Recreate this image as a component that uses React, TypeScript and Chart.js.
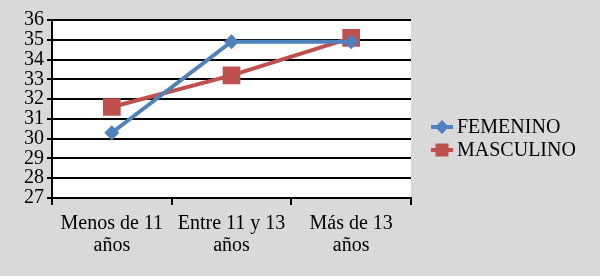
import React, { useEffect, useRef } from "react";
import { Chart, registerables } from "chart.js";

Chart.register(...registerables);

const categories: string[][] = [["Menos de 11", "años"], ["Entre 11 y 13", "años"], ["Más de 13", "años"]];
const femenino: number[] = [30.3, 34.9, 34.9];
const masculino: number[] = [31.6, 33.2, 35.1];
const seriesNames: string[] = ["FEMENINO", "MASCULINO"];
const yMin = 27;
const yMax = 36;

const BLUE = "#4f81bd";
const RED = "#c0504d";
const BG = "#d9d9d9";
const FONT = '"Liberation Serif", serif';

const bgPlugin = {
  id: "bgPlugin",
  beforeDraw(chart: any) {
    const { ctx, chartArea } = chart;
    ctx.save();
    ctx.fillStyle = BG;
    ctx.fillRect(0, 0, chart.width, chart.height);
    ctx.fillStyle = "#ffffff";
    ctx.fillRect(chartArea.left, chartArea.top, chartArea.right - chartArea.left, chartArea.bottom - chartArea.top);
    ctx.restore();
  },
};

const legendPlugin = {
  id: "customLegend",
  afterDraw(chart: any) {
    const { ctx } = chart;
    const x0 = 431;
    const x1 = 453;
    const ys = [127, 150];
    ctx.save();
    chart.data.datasets.forEach((ds: any, i: number) => {
      const y = ys[i];
      ctx.strokeStyle = ds.borderColor;
      ctx.lineWidth = 4;
      ctx.beginPath();
      ctx.moveTo(x0, y);
      ctx.lineTo(x1, y);
      ctx.stroke();
      ctx.fillStyle = ds.borderColor;
      const cx = (x0 + x1) / 2;
      ctx.beginPath();
      if (ds.pointStyle === "rectRot") {
        const r = 7;
        ctx.moveTo(cx - r, y);
        ctx.lineTo(cx, y - r);
        ctx.lineTo(cx + r, y);
        ctx.lineTo(cx, y + r);
        ctx.closePath();
      } else {
        const h = 6.5;
        ctx.rect(cx - h, y - h, 2 * h, 2 * h);
      }
      ctx.fill();
      ctx.fillStyle = "#000";
      ctx.font = `20px ${FONT}`;
      ctx.textBaseline = "middle";
      ctx.textAlign = "left";
      ctx.fillText(ds.label, 457, y + 1);
    });
    ctx.restore();
  },
};

export default function App() {
  const ref = useRef<HTMLCanvasElement>(null);
  useEffect(() => {
    document.body.style.margin = "0";
    let chart: any = null;
    let cancelled = false;
    const build = () => {
      if (cancelled || !ref.current) return;
      chart = new Chart(ref.current, {
        type: "line",
        data: {
          labels: categories,
          datasets: [
            {
              label: seriesNames[0],
              data: femenino,
              borderColor: BLUE,
              backgroundColor: BLUE,
              borderWidth: 4,
              pointStyle: "rectRot",
              pointRadius: 7.5,
              pointBorderWidth: 0,
              pointBackgroundColor: BLUE,
              tension: 0,
            },
            {
              label: seriesNames[1],
              data: masculino,
              borderColor: RED,
              backgroundColor: RED,
              borderWidth: 4,
              pointStyle: "rect",
              pointRadius: 12.5,
              pointBorderWidth: 0,
              pointBackgroundColor: RED,
              tension: 0,
            },
          ],
        },
        options: {
          animation: false,
          responsive: false,
          maintainAspectRatio: false,
          layout: { padding: { top: 20, right: 189, left: 0, bottom: 0 } },
          plugins: { legend: { display: false }, tooltip: { enabled: false } },
          scales: {
            x: {
              offset: true,
              grid: { offset: true, drawOnChartArea: false, drawTicks: true, tickLength: 7, color: "#000", lineWidth: 2 },
              border: { color: "#000", width: 2 },
              ticks: { color: "#000", font: { family: FONT, size: 20, lineHeight: 1.1 }, padding: 8, maxRotation: 0, autoSkip: false },
              afterFit(scale: any) {
                scale.height = 78;
              },
            },
            y: {
              min: yMin,
              max: yMax,
              grid: { color: "#000", lineWidth: 2, tickLength: 5 },
              border: { color: "#000", width: 2 },
              ticks: { stepSize: 1, autoSkip: false, color: "#000", font: { family: FONT, size: 20, lineHeight: 1 }, padding: 3 },
              afterFit(scale: any) {
                scale.width = 52;
              },
            },
          },
        },
        plugins: [bgPlugin, legendPlugin],
      });
    };
    const fonts: any = (document as any).fonts;
    if (fonts && fonts.load) {
      fonts.load('20px "Liberation Serif"').then(build, build);
    } else {
      build();
    }
    return () => {
      cancelled = true;
      if (chart) chart.destroy();
    };
  }, []);
  return (
    <div style={{ position: "absolute", left: 0, top: 0, width: 600, height: 276 }}>
      <canvas ref={ref} width={600} height={276} style={{ width: 600, height: 276, display: "block" }} />
    </div>
  );
}
